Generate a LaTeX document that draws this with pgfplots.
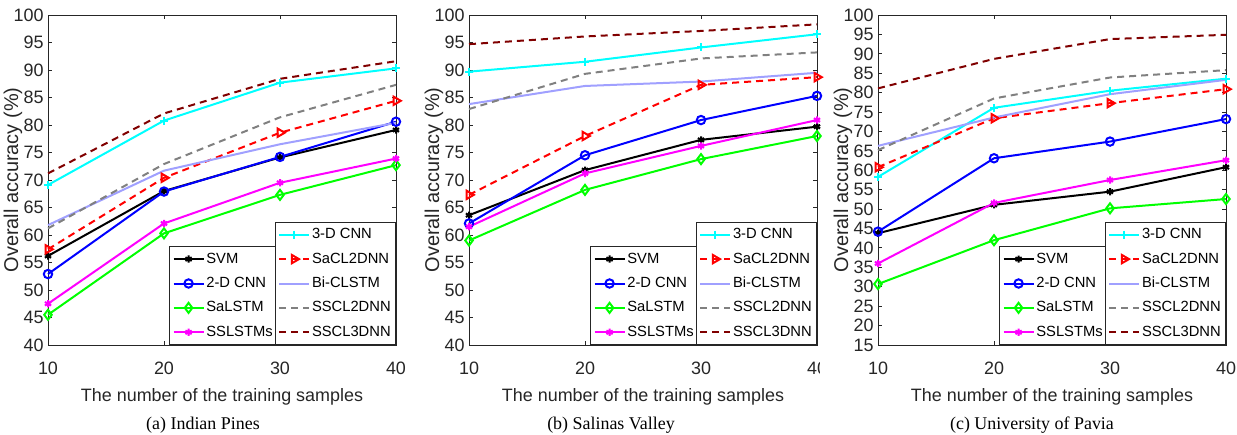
\documentclass[border=0pt]{standalone}
\usepackage{fontspec}
\setmainfont{Liberation Sans}
\newfontfamily\capfont{Liberation Serif}
\usepackage{pgfplots}
\usepackage{pgfplotstable}
\pgfplotsset{compat=1.18}

\definecolor{axgray}{rgb}{0.15,0.15,0.15}
\definecolor{cSVM}{RGB}{0,0,0}
\definecolor{cBlue}{RGB}{0,0,255}
\definecolor{cGreen}{RGB}{0,255,0}
\definecolor{cMag}{RGB}{255,0,255}
\definecolor{cCyan}{RGB}{0,255,255}
\definecolor{cRed}{RGB}{255,0,0}
\definecolor{bicl}{RGB}{160,160,255}
\definecolor{midgray}{RGB}{128,128,128}
\definecolor{darkred}{RGB}{128,0,0}

% columns: SVM, 2-D CNN, SaLSTM, SSLSTMs, 3-D CNN, SaCL2DNN, Bi-CLSTM, SSCL2DNN, SSCL3DNN
\pgfplotstableread{
x  svm  cnn2 salstm sslstm cnn3 sacl bicl sscl2 sscl3
10 56.2 52.9 45.5   47.5   69.1 57.4 61.8 61.2  71.2
20 68.0 67.9 60.3   62.1   80.8 70.4 71.7 72.9  82.1
30 74.1 74.2 67.3   69.5   87.7 78.6 76.5 81.4  88.4
40 79.1 80.6 72.7   73.9   90.3 84.4 80.4 87.3  91.6
}\indianpines
\pgfplotstableread{
x  svm  cnn2 salstm sslstm cnn3 sacl bicl sscl2 sscl3
10 63.6 62.1 59.0   61.5   89.7 67.3 83.8 82.9  94.7
20 71.8 74.5 68.2   71.2   91.5 78.0 87.1 89.3  96.1
30 77.3 80.9 73.8   76.2   94.1 87.3 87.9 92.1  97.1
40 79.7 85.3 78.0   80.9   96.5 88.7 89.5 93.2  98.3
}\salinas
\pgfplotstableread{
x  svm  cnn2 salstm sslstm cnn3 sacl bicl sscl2 sscl3
10 43.8 44.2 30.7   36.0   58.3 60.8 66.3 65.2  81.1
20 51.1 63.1 42.0   51.6   76.1 73.4 73.6 78.5  88.7
30 54.5 67.4 50.2   57.5   80.5 77.3 79.6 83.9  93.8
40 60.8 73.2 52.6   62.6   83.6 80.9 83.3 85.8  94.9
}\pavia

\pgfplotsset{
  sSVM/.style={cSVM, line width=1bp, mark=asterisk, mark size=1.8bp, mark options={solid}},
  sCNN2/.style={cBlue, line width=1bp, mark=o, mark size=2.1bp, mark options={solid}},
  sSaLSTM/.style={cGreen, line width=1bp, mark=diamond, mark size=2.5bp, mark options={solid}},
  sSSLSTM/.style={cMag, line width=1bp, mark=asterisk, mark size=1.8bp, mark options={solid}},
  sCNN3/.style={cCyan, line width=1bp, mark=+, mark size=2bp, mark options={solid}},
  sSaCL/.style={cRed, line width=1bp, dash pattern=on 3.5bp off 2.5bp, mark=triangle, mark size=2.4bp, mark options={solid, rotate=-90}},
  sBiCL/.style={bicl, line width=1bp, no marks},
  sSSCL2/.style={midgray, line width=1bp, dash pattern=on 3.5bp off 2.5bp, no marks},
  sSSCL3/.style={darkred, line width=1bp, dash pattern=on 3.5bp off 2.5bp, no marks},
  geom/.style={
    scale only axis, width=174bp, height=165bp,
    xmin=10, xmax=40, clip=false,
    legend cell align=left,
    legend image code/.code={\draw[mark repeat=2,mark phase=2,##1] plot coordinates {(0bp,0bp) (7.5bp,0bp) (15bp,0bp)};},
    legend style={draw=axgray, line width=0.5bp, fill=white,
      font=\fontsize{7.4}{8}\selectfont, inner xsep=1.5bp, inner ysep=1.6bp, row sep=3.2bp,
      nodes={inner sep=0.9bp, text height=5.6bp, text depth=1.6bp}},
  },
  panel/.style={
    geom,
    xtick={10,20,30,40},
    axis line style={draw=axgray, line width=0.5bp},
    every tick/.style={draw=axgray, line width=0.5bp},
    major tick length=2bp,
    tick label style={font=\fontsize{9}{10}\selectfont, text=axgray},
    /pgf/number format/assume math mode=true,
    xticklabel style={anchor=center, yshift=-11.5bp},
    yticklabel style={inner sep=0pt, xshift=-2bp},
    xlabel={The number of the training samples},
    ylabel={Overall accuracy (\%)},
    xlabel style={at={(axis description cs:0.5,-0.1576)}, anchor=center, font=\fontsize{9}{10}\selectfont, text=axgray},
    ylabel style={at={(axis description cs:-0.1006,0.5)}, anchor=center, font=\fontsize{10}{12}\selectfont, text=axgray},
    legend style={at={(rel axis cs:0.661,0)}, anchor=south east},
  },
  legtwo/.style={
    geom, hide axis, ymin=0, ymax=1,
    legend style={at={(rel axis cs:1,0)}, anchor=south east},
  },
}

\newcommand{\allseries}[1]{%
  \addplot[sSVM] table[x=x,y=svm] {#1}; \addlegendentry{SVM}
  \addplot[sCNN2] table[x=x,y=cnn2] {#1}; \addlegendentry{2-D CNN}
  \addplot[sSaLSTM] table[x=x,y=salstm] {#1}; \addlegendentry{SaLSTM}
  \addplot[sSSLSTM] table[x=x,y=sslstm] {#1}; \addlegendentry{SSLSTMs}
  \addplot[sCNN3] table[x=x,y=cnn3] {#1};
  \addplot[sSaCL] table[x=x,y=sacl] {#1};
  \addplot[sBiCL] table[x=x,y=bicl] {#1};
  \addplot[sSSCL2] table[x=x,y=sscl2] {#1};
  \addplot[sSSCL3] table[x=x,y=sscl3] {#1};
}
\newcommand{\secondlegend}{%
  \addlegendimage{sCNN3}\addlegendentry{3-D CNN}
  \addlegendimage{sSaCL}\addlegendentry{SaCL2DNN}
  \addlegendimage{sBiCL}\addlegendentry{Bi-CLSTM}
  \addlegendimage{sSSCL2}\addlegendentry{SSCL2DNN}
  \addlegendimage{sSSCL3}\addlegendentry{SSCL3DNN}
}

\begin{document}
\begin{tikzpicture}
\path[use as bounding box] (-24bp,-45bp) rectangle (594.5bp,172.5bp);

% (a) Indian Pines
\begin{axis}[panel, at={(0bp,0bp)}, anchor=south west, ymin=40, ymax=100, ytick={40,45,...,100}]
\allseries{\indianpines}
\end{axis}
\begin{axis}[legtwo, at={(0bp,0bp)}, anchor=south west]
\secondlegend
\end{axis}
\node[font=\capfont\fontsize{9}{10}\selectfont] at (77.5bp,-40bp) {(a) Indian Pines};

% (b) Salinas Valley
\begin{axis}[panel, at={(210.5bp,0bp)}, anchor=south west, ymin=40, ymax=100, ytick={40,45,...,100}]
\allseries{\salinas}
\end{axis}
\begin{axis}[legtwo, at={(210.5bp,0bp)}, anchor=south west]
\secondlegend
\end{axis}
\node[font=\capfont\fontsize{9}{10}\selectfont] at (281.5bp,-40bp) {(b) Salinas Valley};
\fill[white] (386bp,-20bp) rectangle (400bp,-3bp);

% (c) University of Pavia
\begin{axis}[panel, at={(415bp,0bp)}, anchor=south west, ymin=15, ymax=100, ytick={15,20,...,100}]
\allseries{\pavia}
\end{axis}
\begin{axis}[legtwo, at={(415bp,0bp)}, anchor=south west]
\secondlegend
\end{axis}
\node[font=\capfont\fontsize{9}{10}\selectfont] at (492bp,-40bp) {(c) University of Pavia};
\end{tikzpicture}
\end{document}
